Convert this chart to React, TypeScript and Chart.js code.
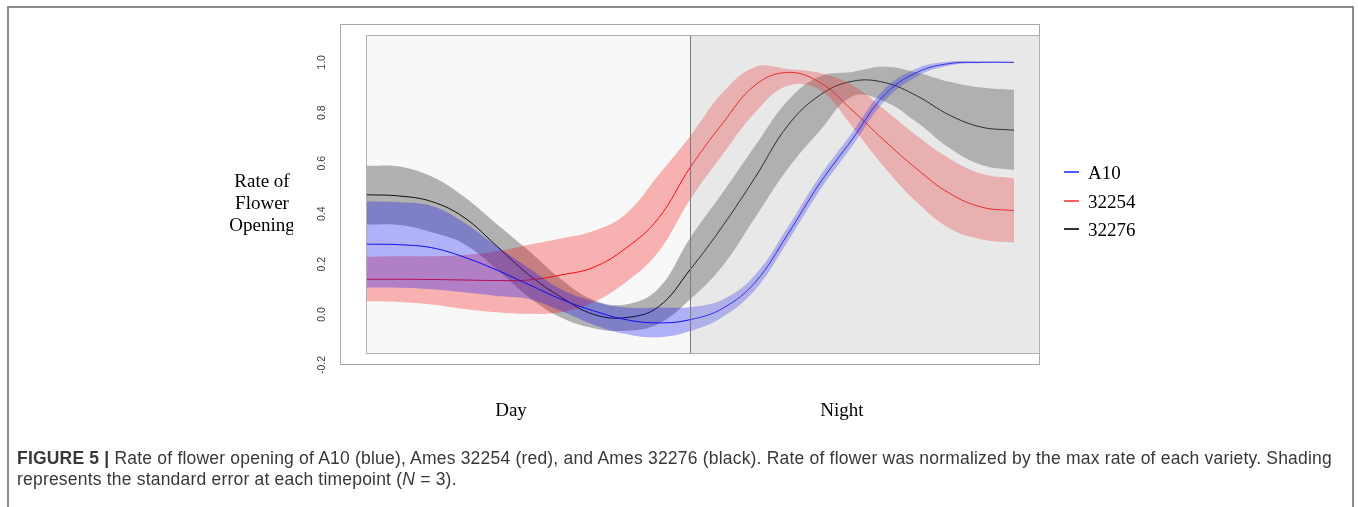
import React, { useEffect, useRef } from "react";
import { Chart, registerables } from "chart.js";

Chart.register(...registerables);

// ---- data ----
const TIME = [0, 5, 10, 15, 20, 25, 30, 35, 40, 45, 50, 55, 60, 65, 70, 75, 80, 85, 90, 95, 100];

const A10_MEAN = [0.279, 0.277, 0.265, 0.228, 0.177, 0.119, 0.061, 0.015, -0.02, -0.033, -0.02, 0.025, 0.128, 0.317, 0.521, 0.695, 0.871, 0.96, 0.995, 1.0, 1.0];
const A10_UPPER = [0.448, 0.445, 0.43, 0.365, 0.272, 0.185, 0.1, 0.052, 0.028, 0.028, 0.03, 0.06, 0.158, 0.345, 0.549, 0.722, 0.895, 0.976, 1.003, 1.003, 1.002];
const A10_LOWER = [0.107, 0.106, 0.1, 0.088, 0.074, 0.062, 0.015, -0.04, -0.077, -0.09, -0.065, -0.01, 0.098, 0.289, 0.493, 0.668, 0.847, 0.944, 0.987, 0.997, 0.998];

const AMES32254_MEAN = [0.14, 0.14, 0.139, 0.137, 0.135, 0.137, 0.157, 0.187, 0.263, 0.38, 0.585, 0.759, 0.91, 0.96, 0.92, 0.81, 0.689, 0.577, 0.481, 0.426, 0.412];
const AMES32254_UPPER = [0.229, 0.231, 0.231, 0.236, 0.25, 0.277, 0.302, 0.331, 0.399, 0.551, 0.709, 0.881, 0.982, 0.974, 0.958, 0.91, 0.812, 0.709, 0.619, 0.558, 0.54];
const AMES32254_LOWER = [0.053, 0.05, 0.04, 0.022, 0.009, 0.003, 0.009, 0.049, 0.128, 0.247, 0.458, 0.636, 0.801, 0.907, 0.89, 0.745, 0.583, 0.445, 0.342, 0.298, 0.286];

const AMES32276_MEAN = [0.475, 0.47, 0.448, 0.385, 0.273, 0.158, 0.069, 0.001, -0.012, 0.03, 0.18, 0.352, 0.544, 0.748, 0.87, 0.925, 0.92, 0.867, 0.791, 0.743, 0.731];
const AMES32276_UPPER = [0.59, 0.587, 0.547, 0.467, 0.36, 0.253, 0.14, 0.058, 0.04, 0.102, 0.306, 0.484, 0.669, 0.847, 0.945, 0.962, 0.983, 0.96, 0.923, 0.9, 0.891];
const AMES32276_LOWER = [0.357, 0.355, 0.326, 0.28, 0.181, 0.07, -0.012, -0.054, -0.064, -0.037, 0.062, 0.194, 0.385, 0.577, 0.729, 0.865, 0.845, 0.762, 0.66, 0.593, 0.573];

const SERIES_NAMES = ["A10", "32254", "32276"];
const Y_TICKS = [-0.2, 0, 0.2, 0.4, 0.6, 0.8, 1.0];
const Y_TICK_LABELS = ["-0.2", "0.0", "0.2", "0.4", "0.6", "0.8", "1.0"];
const PERIOD_LABELS = ["Day", "Night"];
const NIGHT_START = 50;
const Y_TITLE = ["Rate of", "Flower", "Opening"];

// ---- styles ----
const LINE_COLORS = ["#0000ff", "#ff0000", "#000000"];
const BAND_COLORS = ["rgba(0,0,255,0.3)", "rgba(255,0,0,0.3)", "rgba(0,0,0,0.3)"];
const LEGEND_COLORS = ["rgba(0,0,255,0.65)", "rgba(255,0,0,0.62)", "rgba(0,0,0,0.8)"];
const DAY_SHADE = "rgba(169,169,169,0.08)";
const NIGHT_SHADE = "rgba(169,169,169,0.27)";

const X_MIN = -4.17;
const X_MAX = 104.02;
const Y_MIN = -0.2;
const Y_MAX = 1.152;
const PANEL_TOP = 1.105;
const PANEL_BOTTOM = -0.151;

const W = 1358;
const H = 507;

function panel(chart: any) {
  const { chartArea, scales } = chart;
  const x = scales.x;
  const y = scales.y;
  return {
    top: Math.round(y.getPixelForValue(PANEL_TOP)),
    bottom: Math.round(y.getPixelForValue(PANEL_BOTTOM)),
    x0: Math.round(x.getPixelForValue(TIME[0])),
    x1: Math.round(x.getPixelForValue(NIGHT_START)),
    x2: Math.round(chartArea.right),
  };
}

const backgroundPlugin = {
  id: "dayNight",
  beforeDatasetsDraw(chart: any) {
    const { ctx, chartArea } = chart;
    ctx.save();
    ctx.fillStyle = "#ffffff";
    ctx.fillRect(0, 0, W, H);
    ctx.lineWidth = 1;
    ctx.strokeStyle = "#a8a8a8";
    ctx.strokeRect(
      Math.round(chartArea.left) + 0.5,
      Math.round(chartArea.top) + 0.5,
      Math.round(chartArea.right - chartArea.left) - 1,
      Math.round(chartArea.bottom - chartArea.top) - 1
    );
    ctx.restore();
  },
  afterDatasetsDraw(chart: any) {
    const { ctx, scales } = chart;
    const y = scales.y;
    const { top, bottom, x0, x1, x2 } = panel(chart);
    ctx.save();
    // day / night shading laid over the bands
    ctx.fillStyle = DAY_SHADE;
    ctx.fillRect(x0, top, x1 - x0, bottom - top);
    ctx.fillStyle = NIGHT_SHADE;
    ctx.fillRect(x1, top, x2 - x1, bottom - top);
    ctx.lineWidth = 1;
    ctx.strokeStyle = "#b0b0b0";
    ctx.strokeRect(x0 - 0.5, top - 0.5, x2 - x0, bottom - top + 1);
    ctx.strokeStyle = "#7a7a7a";
    ctx.beginPath();
    ctx.moveTo(x1 + 0.5, top);
    ctx.lineTo(x1 + 0.5, bottom);
    ctx.stroke();
    // y tick labels, rotated (R style)
    ctx.fillStyle = "#404040";
    ctx.font = "10.5px 'Liberation Sans', Arial, sans-serif";
    ctx.textAlign = "center";
    ctx.textBaseline = "middle";
    Y_TICKS.forEach((v, i) => {
      const py = y.getPixelForValue(v);
      ctx.save();
      ctx.translate(322.5, py);
      ctx.rotate(-Math.PI / 2);
      ctx.fillText(Y_TICK_LABELS[i], 0, 0);
      ctx.restore();
    });
    ctx.restore();
  },
};

function pts(arr: number[]) {
  return TIME.map((t, i) => ({ x: t, y: arr[i] }));
}

export default function App() {
  const ref = useRef<HTMLCanvasElement | null>(null);

  useEffect(() => {
    if (!ref.current) return;
    const groups = [
      [A10_MEAN, A10_UPPER, A10_LOWER],
      [AMES32254_MEAN, AMES32254_UPPER, AMES32254_LOWER],
      [AMES32276_MEAN, AMES32276_UPPER, AMES32276_LOWER],
    ];
    const datasets: any[] = [];
    groups.forEach(([mean, upper, lower], s) => {
      const base = (s + 1) * 3;
      datasets.push({
        label: SERIES_NAMES[s] + " upper",
        data: pts(upper),
        borderColor: "rgba(0,0,0,0)",
        borderWidth: 0,
        backgroundColor: BAND_COLORS[s],
        fill: "+1",
        pointRadius: 0,
        tension: 0.4,
        order: base,
      });
      datasets.push({
        label: SERIES_NAMES[s] + " lower",
        data: pts(lower),
        borderColor: "rgba(0,0,0,0)",
        borderWidth: 0,
        fill: false,
        pointRadius: 0,
        tension: 0.4,
        order: base + 1,
      });
      datasets.push({
        label: SERIES_NAMES[s],
        data: pts(mean),
        borderColor: LINE_COLORS[s],
        borderWidth: 1,
        fill: false,
        pointRadius: 0,
        tension: 0.4,
        order: base - 1,
      });
    });

    const chart = new Chart(ref.current, {
      type: "line",
      data: { datasets },
      options: {
        animation: false,
        responsive: false,
        maintainAspectRatio: false,
        devicePixelRatio: 1,
        layout: { padding: { left: 340, right: W - 1040, top: 24, bottom: H - 365 } },
        scales: {
          x: { type: "linear", min: X_MIN, max: X_MAX, display: false },
          y: { type: "linear", min: Y_MIN, max: Y_MAX, display: false },
        },
        plugins: {
          legend: { display: false },
          tooltip: { enabled: false },
        },
        elements: { point: { radius: 0 } },
      } as any,
      plugins: [backgroundPlugin],
    });
    return () => chart.destroy();
  }, []);

  const serif = "'Liberation Serif', 'Times New Roman', serif";
  const sans = "'Liberation Sans', Arial, Helvetica, sans-serif";

  return (
    <div style={{ position: "absolute", left: 0, top: 0, width: W, height: H, overflow: "hidden", background: "#fff" }}>
      <canvas ref={ref} width={W} height={H} style={{ position: "absolute", left: 0, top: 0, width: W, height: H, display: "block" }} />
      <div
        style={{
          position: "absolute",
          left: 7,
          top: 6,
          width: 1352 - 7 - 2,
          height: 700,
          borderLeft: "2px solid #8c8c8c",
          borderTop: "2px solid #8c8c8c",
          borderRight: "2px solid #8c8c8c",
          boxSizing: "content-box",
          pointerEvents: "none",
        }}
      />

      {/* y title, clipped at right like the reference */}
      <div style={{ position: "absolute", left: 200, top: 169.6, width: 93, overflow: "hidden" }}>
        <div style={{ width: 124, textAlign: "center", fontFamily: serif, fontSize: 19, lineHeight: "22px", color: "#000" }}>
          {Y_TITLE.map((t) => (
            <div key={t} style={{ whiteSpace: "nowrap" }}>{t}</div>
          ))}
        </div>
      </div>

      {/* Day / Night */}
      <div style={{ position: "absolute", left: 511 - 50, top: 398.7, width: 100, textAlign: "center", fontFamily: serif, fontSize: 19, lineHeight: "22px" }}>
        {PERIOD_LABELS[0]}
      </div>
      <div style={{ position: "absolute", left: 842 - 50, top: 398.7, width: 100, textAlign: "center", fontFamily: serif, fontSize: 19, lineHeight: "22px" }}>
        {PERIOD_LABELS[1]}
      </div>

      {/* legend */}
      {SERIES_NAMES.map((n, i) => {
        const cy = 171.7 + i * 28.8;
        return (
          <React.Fragment key={n}>
            <div style={{ position: "absolute", left: 1064, top: cy - 1, width: 15, height: 2, background: LEGEND_COLORS[i] }} />
            <div style={{ position: "absolute", left: 1088, top: cy + 7.5 - 17.4, fontFamily: serif, fontSize: 19, lineHeight: "22px", whiteSpace: "nowrap" }}>
              {n}
            </div>
          </React.Fragment>
        );
      })}

      {/* caption */}
      <div style={{ position: "absolute", left: 17, top: 448.3, fontFamily: sans, fontSize: 17.5, lineHeight: "21px", letterSpacing: "0.2px", color: "#383838", whiteSpace: "nowrap" }}>
        <div>
          <b>FIGURE 5 |</b> Rate of flower opening of A10 (blue), Ames 32254 (red), and Ames 32276 (black). Rate of flower was normalized by the max rate of each variety. Shading
        </div>
        <div>
          represents the standard error at each timepoint (<i>N</i> = 3).
        </div>
      </div>
    </div>
  );
}
